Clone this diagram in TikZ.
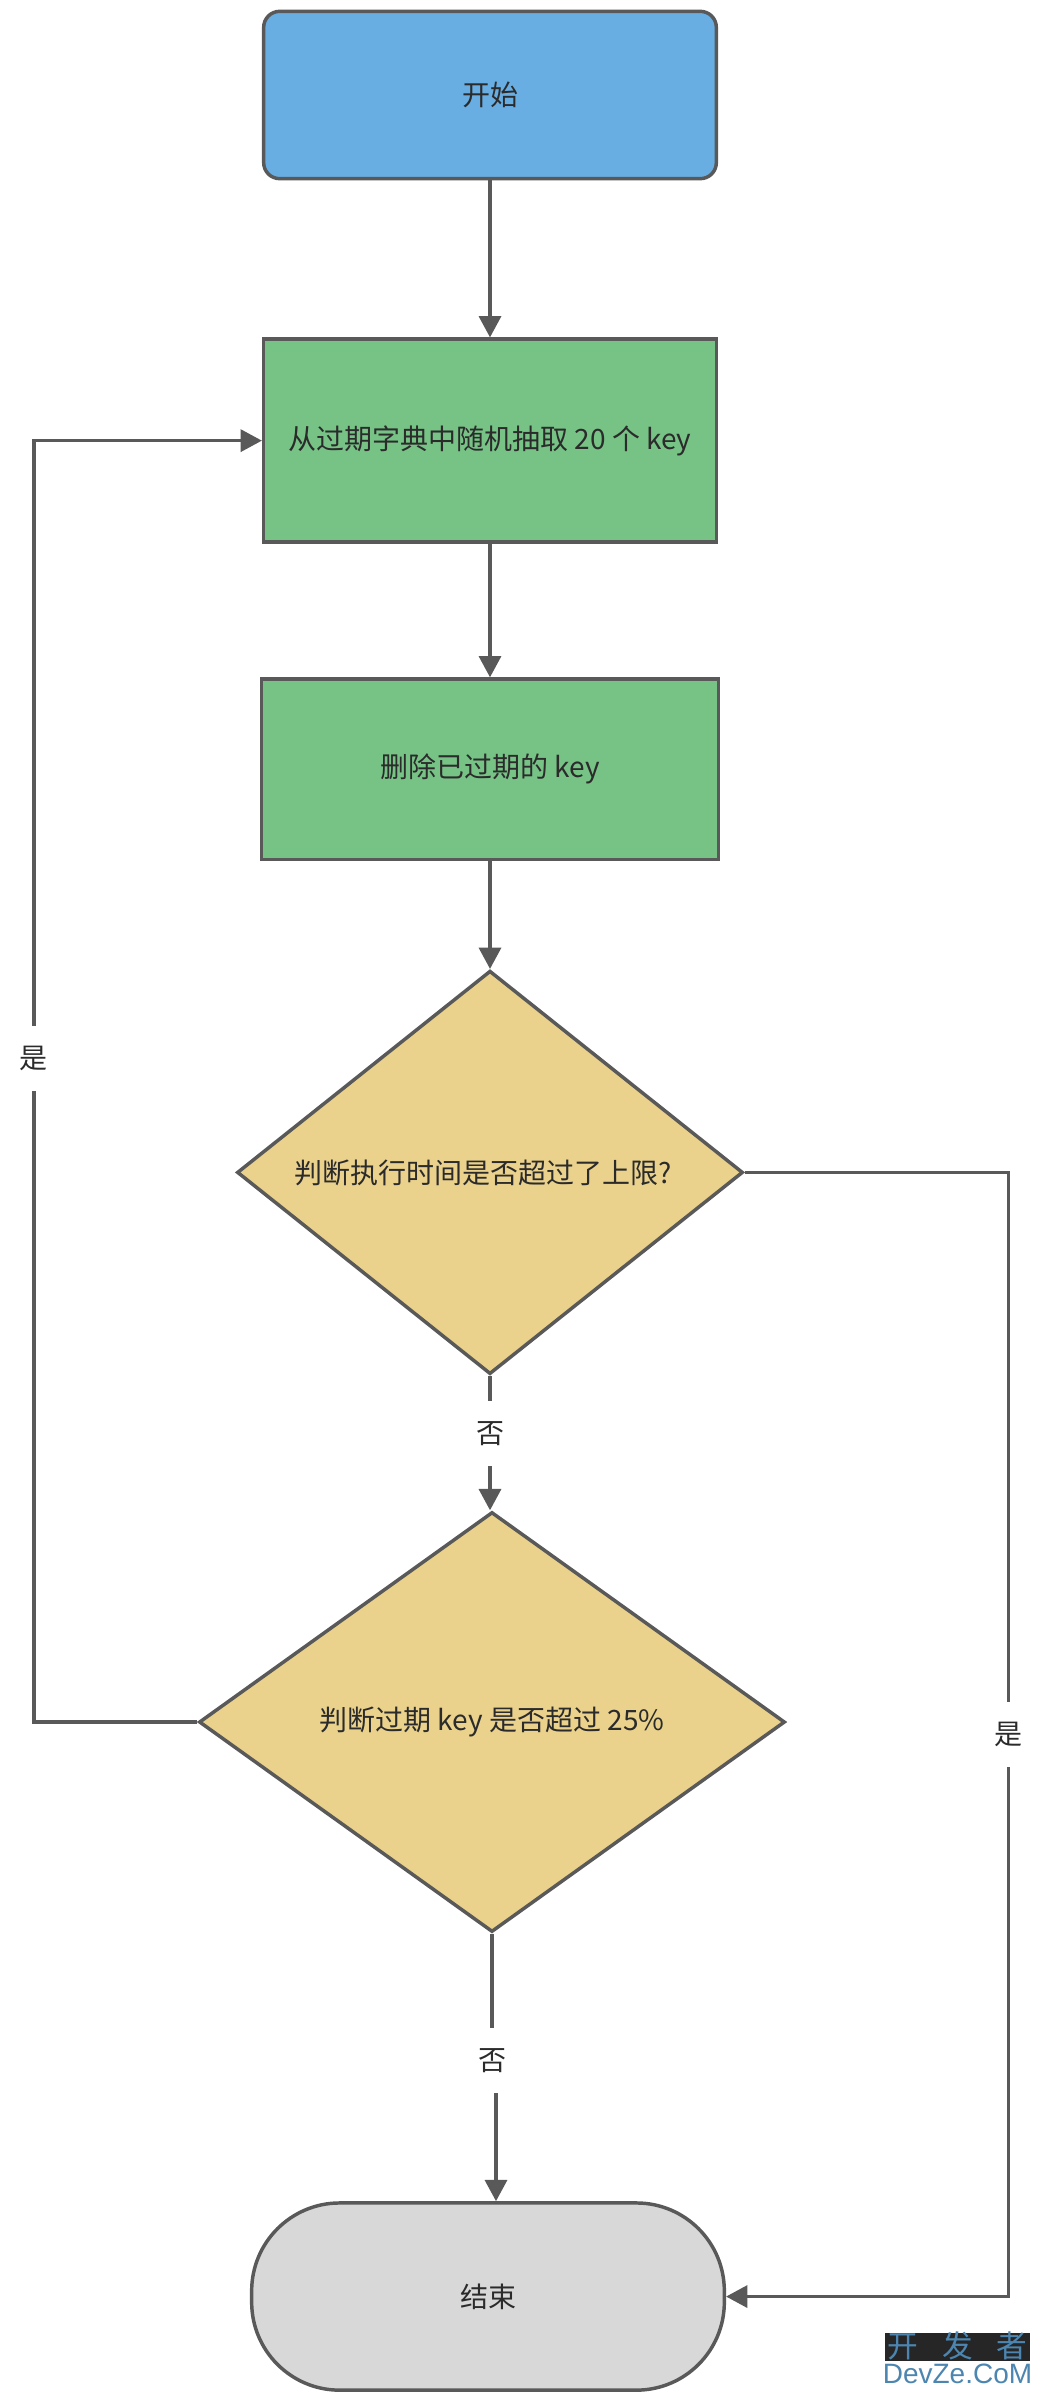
\documentclass[tikz,border=0pt]{standalone}
\usepackage{fontspec}
\setmainfont{Noto Sans CJK SC}
\newfontfamily\wmfont{Liberation Sans}
\usetikzlibrary{arrows.meta,positioning,shapes.geometric}
\definecolor{linegray}{RGB}{89, 89, 89}
\definecolor{textgray}{RGB}{43, 43, 43}
\definecolor{startblue}{RGB}{104, 174, 227}
\definecolor{stepgreen}{RGB}{119, 195, 134}
\definecolor{checkyellow}{RGB}{234, 209, 140}
\definecolor{stopgray}{RGB}{216, 216, 216}
\definecolor{wmblue}{RGB}{76, 134, 176}
\definecolor{wmdark}{RGB}{38, 38, 38}
\tikzset{
 basebox/.style={
 draw=linegray,
 line width=2.6pt,
 text=textgray,
 inner sep=0pt,
 align=center,
 font=\fontsize{21}{25}\selectfont
 },
 startbox/.style={
 basebox,
 rectangle,
 rounded corners=12pt,
 fill=startblue
 },
 stepbox/.style={
 basebox,
 rectangle,
 fill=stepgreen
 },
 decision/.style={
 basebox,
 diamond,
 fill=checkyellow
 },
 stopbox/.style={
 basebox,
 rectangle,
 rounded corners=66pt,
 fill=stopgray
 },
 flowarrow/.style={-{Triangle[length=16pt,width=16.5pt]}, line width=2.6pt, draw=linegray},
 flowlabel/.style={
 fill=white,
 text=textgray,
 inner sep=0pt,
 minimum width=30pt,
 minimum height=49pt,
 font=\fontsize{21}{25}\selectfont
 }
}

\begin{document}
\begin{tikzpicture}[x=0.75pt,y=-0.75pt]
 \useasboundingbox (0,0) rectangle (1041,2399);

 \node[startbox, minimum width=339.5pt, minimum height=125.5pt] (start) at (490,95) {开始};
 \node[stepbox, minimum width=339.5pt, minimum height=152.25pt, below=117.75pt of start] (pick) {从过期字典中随机抽取 20 个 key};
 \node[stepbox, minimum width=342.5pt, minimum height=135.5pt, below=100.1pt of pick] (remove) {删除已过期的 key};
 \node[decision, aspect=1.26, minimum width=379.5pt, minimum height=302.6pt, below=80.6pt of remove] (timecheck) {判断执行时间是否超过了上限?\hspace{10pt}};
 \node[decision, aspect=1.395, minimum width=439.5pt, minimum height=315pt, below=100.8pt of timecheck, xshift=1.5pt] (ratiocheck) {判断过期 key 是否超过 25\%};
 \node[stopbox, minimum width=354.5pt, minimum height=140.4pt, below=200.6pt of ratiocheck, xshift=-3pt] (stop) {结束};

 \coordinate[below=95.25pt of ratiocheck.south] (nomid);
 \coordinate[xshift=6pt] (stopin) at (stop.north);
 \coordinate[right=198pt of timecheck.east] (yesright);
 \coordinate[left=122.6pt of ratiocheck.west] (yesleft);

 \draw[flowarrow] (start) -- (pick);
 \draw[flowarrow] (pick) -- (remove);
 \draw[flowarrow] (remove) -- (timecheck);
 \draw[flowarrow] (timecheck) -- node[flowlabel, pos=.43] {否} (timecheck |- ratiocheck.north);
 \draw[flowarrow] (ratiocheck.south) -- (nomid) -| (stopin);
 \node[flowlabel] (nolabel) at (nomid) {否};
 \draw[flowarrow] (timecheck.east) -- (yesright) -- node[flowlabel, midway] {是} (yesright |- stop.east) -- (stop.east);
 \draw[flowarrow] (ratiocheck.west) -- (yesleft) -- node[flowlabel, pos=.518] {是} (yesleft |- pick.west) -- (pick.west);

 \node[fill=wmdark, text=wmblue, inner sep=0pt, minimum width=108.75pt, text height=18pt, text depth=3pt, font=\fontsize{23}{23}\selectfont] (wmtop) at (957.5,2347) {开\hspace{18pt}发\hspace{18pt}者};
 \node[text=wmblue, inner sep=0pt, font=\wmfont\fontsize{21}{21}\selectfont, below=1.5pt of wmtop] (wmbottom) {DevZe.CoM};
\end{tikzpicture}
\end{document}
